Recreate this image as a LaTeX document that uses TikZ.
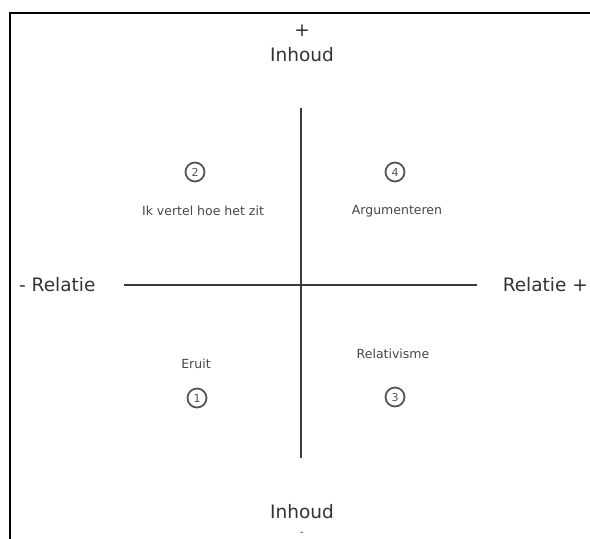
\documentclass[tikz,border=0pt]{standalone}
\usepackage{fontspec}
\setmainfont{DejaVu Sans}
\usepackage{xcolor}
\usetikzlibrary{positioning}
\definecolor{axisc}{HTML}{3A3A3A}
\definecolor{textc}{HTML}{333333}
\definecolor{numc}{HTML}{555555}
\tikzset{
  axis/.style={axisc,line width=1.5pt},
  big/.style={text=textc,font=\fontsize{18.5}{21}\selectfont,inner sep=0pt},
  lbl/.style={text=textc!90,font=\fontsize{12.5}{14}\selectfont,inner sep=0pt},
  num/.style={circle,draw=numc,line width=1.8pt,text=numc,minimum size=19pt,inner sep=0pt,font=\fontsize{11}{12}\selectfont}
}

\begin{document}
\begin{tikzpicture}[x=1pt,y=-1pt]
\useasboundingbox (0,0) rectangle (590,539);
\fill[white] (0,0) rectangle (590,539);
% frame (cut off at right and bottom)
\draw[black,line width=2pt] (10,539)--(10,13)--(590,13);
% axes
\coordinate (vtop) at (301,108);
\coordinate (vbot) at (301,458);
\coordinate (hleft) at (124,285);
\coordinate (hright) at (477,285);
\draw[axis] (vtop)--(vbot);
\draw[axis] (hleft)--(hright);
% axis labels
\node[big] (plus) at (302,31) {+};
\node[big] (inhtop) at (302,55) {Inhoud};
\node[big] (inhbot) at (302,512) {Inhoud};
\node[big,font=\fontsize{10}{12}\selectfont] (min) at (302,534) {-};
\node[big,anchor=west] (rell) at (19,285) {- Relatie};
\node[big,anchor=east] (relr) at (588,285) {Relatie +};
% quadrants
\node[num] (n2) at (195,172) {2};
\node[lbl] (q2) at (203,211) {Ik vertel hoe het zit};
\node[num] (n4) at (395,172) {4};
\node[lbl] (q4) at (397,211) {Argumenteren};
\node[lbl] (q1) at (196,364) {Eruit};
\node[num] (n1) at (197,398) {1};
\node[lbl] (q3) at (393,354) {Relativisme};
\node[num] (n3) at (395,397) {3};
\end{tikzpicture}
\end{document}
